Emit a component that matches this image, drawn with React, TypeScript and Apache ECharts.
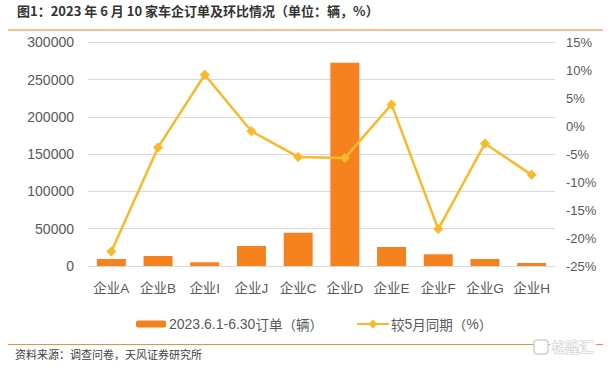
import React, { useEffect, useRef } from "react";
import * as echarts from "echarts";

const categories = ["企业A", "企业B", "企业I", "企业J", "企业C", "企业D", "企业E", "企业F", "企业G", "企业H"];
const orders = [9400, 13400, 5000, 26800, 44700, 272600, 25500, 15700, 9400, 4000];
const momPct = [-22.4, -3.8, 9.2, -0.9, -5.5, -5.7, 3.9, -18.4, -3.1, -8.7];
const barName = "2023.6.1-6.30订单（辆）";
const lineName = "较5月同期（%）";
const titleText = "图1：2023 年 6 月 10 家车企订单及环比情况（单位：辆，%）";
const sourceText = "资料来源：调查问卷，天风证券研究所";

const FONT = "'Liberation Sans', Arial, 'Noto Sans CJK SC', sans-serif";
const CJK = "'Noto Sans CJK SC', sans-serif";

function richName(name: string): string {
  const parts = name.match(/[\x00-\x7F]+|[^\x00-\x7F]+/g) || [name];
  return parts.map((p) => (/^[\x00-\x7F]+$/.test(p) ? `{a|${p}}` : `{b|${p}}`)).join("");
}

const legendRich = {
  a: { fontFamily: FONT, fontSize: 14, color: "#595959" },
  b: { fontFamily: CJK, fontSize: 13.5, color: "#595959" },
};

export default function App() {
  const ref = useRef<HTMLDivElement>(null);
  useEffect(() => {
    if (!ref.current) return;
    const chart = echarts.init(ref.current, null, { renderer: "svg" });
    chart.setOption({
      animation: false,
      backgroundColor: "#ffffff",
      textStyle: { fontFamily: FONT },
      grid: { left: 88, right: 55, top: 42.3, bottom: 102, containLabel: false },
      legend: [
        {
          data: [barName],
          left: 131,
          top: 312,
          itemWidth: 30,
          itemHeight: 7,
          itemGap: 3,
          formatter: richName,
          textStyle: { rich: legendRich, padding: [0, 0, 0, -2] },
        },
        {
          data: [lineName],
          left: 351,
          top: 312,
          itemWidth: 32,
          itemHeight: 11,
          formatter: richName,
          textStyle: { rich: legendRich, padding: [0, 0, 0, -3] },
        },
      ],
      xAxis: {
        type: "category",
        data: categories,
        axisLine: { lineStyle: { color: "#d9d9d9" } },
        axisTick: { show: false },
        axisLabel: { fontSize: 13.5, color: "#595959", margin: 16, interval: 0 },
      },
      yAxis: [
        {
          type: "value",
          min: 0,
          max: 300000,
          interval: 50000,
          axisLine: { show: false },
          axisTick: { show: false },
          axisLabel: {
            fontSize: 14,
            color: "#595959",
            margin: 14,
            formatter: (v: number) => String(v),
          },
          splitLine: { lineStyle: { color: "#d9d9d9", width: 1 } },
        },
        {
          type: "value",
          min: -25,
          max: 15,
          interval: 5,
          position: "right",
          axisLine: { show: false },
          axisTick: { show: false },
          axisLabel: { fontSize: 13, color: "#595959", margin: 11, formatter: "{value}%" },
          splitLine: { show: false },
        },
      ],
      series: [
        {
          name: barName,
          type: "bar",
          data: orders,
          barWidth: "62%",
          itemStyle: { color: "#F5821F" },
          yAxisIndex: 0,
        },
        {
          name: lineName,
          type: "line",
          data: momPct,
          yAxisIndex: 1,
          symbol: "diamond",
          symbolSize: 10,
          lineStyle: { color: "#FBB829", width: 2.5 },
          itemStyle: { color: "#FBB829" },
          z: 3,
        },
      ],
      graphic: [
        {
          type: "text",
          left: 17,
          top: 4,
          style: {
            text: titleText,
            fontSize: 13,
            fontWeight: "bold",
            fill: "#333333",
            fontFamily: CJK,
          },
        },
        {
          type: "line",
          shape: { x1: 8, y1: 30, x2: 603, y2: 30 },
          style: { stroke: "#F08321", lineWidth: 1.2 },
        },
        {
          type: "line",
          shape: { x1: 8, y1: 344.5, x2: 603, y2: 344.5 },
          style: { stroke: "#E8904A", lineWidth: 1 },
        },
        {
          type: "text",
          left: 15,
          top: 348,
          style: {
            text: sourceText,
            fontSize: 11,
            fill: "#404040",
            fontFamily: CJK,
          },
        },
        {
          type: "rect",
          shape: { x: 534, y: 340, width: 14, height: 14, r: 3 },
          style: { fill: "#ffffff", stroke: "#d0d0d0", lineWidth: 1.5 },
        },
        {
          type: "rect",
          shape: { x: 550, y: 338, width: 46, height: 18 },
          style: { fill: "#ffffff" },
        },
        {
          type: "text",
          left: 551,
          top: 338,
          style: {
            text: "格隆汇",
            fontSize: 14,
            fill: "#ffffff",
            stroke: "#c8c8c8",
            lineWidth: 1,
            fontFamily: CJK,
          },
        },
      ],
    });
    return () => chart.dispose();
  }, []);
  return (
    <div
      ref={ref}
      style={{ position: "fixed", left: 0, top: 0, width: 610, height: 368 }}
    />
  );
}
